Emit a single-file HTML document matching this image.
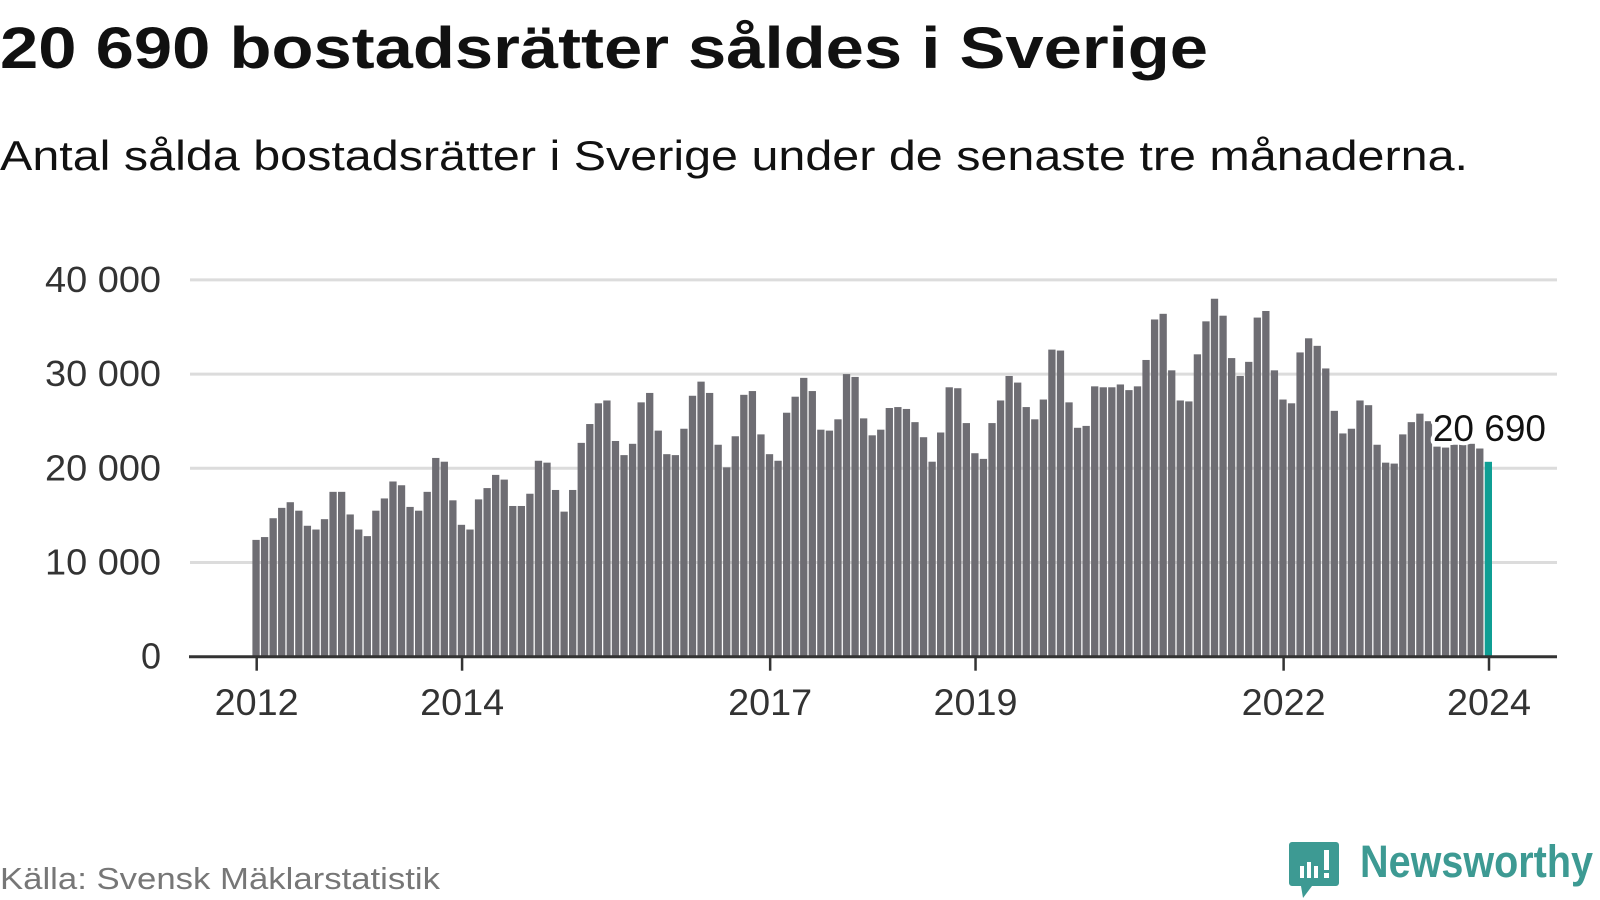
<!DOCTYPE html>
<html><head><meta charset="utf-8"><style>
html,body{margin:0;padding:0;background:#fff;}
svg{display:block;font-family:"Liberation Sans","DejaVu Sans",sans-serif;}
</style></head><body>
<svg id="chart" width="1600" height="900" viewBox="0 0 1600 900">
<text x="0" y="68" font-size="58" font-weight="bold" fill="#111" textLength="1208" lengthAdjust="spacingAndGlyphs">20 690 bostadsrätter såldes i Sverige</text>
<text x="0" y="170" font-size="42" fill="#111" textLength="1468" lengthAdjust="spacingAndGlyphs">Antal sålda bostadsrätter i Sverige under de senaste tre månaderna.</text>
<g id="grid"></g>
<g id="bars"></g>
<g id="axes"></g>
<text x="0" y="889" font-size="31" fill="#777" textLength="440" lengthAdjust="spacingAndGlyphs">Källa: Svensk Mäklarstatistik</text>
<g>
<path d="M1292 842 h44 a3 3 0 0 1 3 3 v38 a3 3 0 0 1 -3 3 h-24 l-9 12 l-2 -12 h-9 a3 3 0 0 1 -3 -3 v-38 a3 3 0 0 1 3 -3z" fill="#3d9a93"/>
<rect x="1300" y="866" width="4" height="12" fill="#fff"/><rect x="1307" y="862" width="4" height="16" fill="#fff"/><rect x="1314" y="866" width="4" height="12" fill="#fff"/><rect x="1324" y="850" width="5" height="20" fill="#fff"/><rect x="1324" y="873" width="5" height="5" fill="#fff"/>
<text x="1360" y="877" font-size="45" font-weight="bold" fill="#3d9a93" textLength="233" lengthAdjust="spacingAndGlyphs">Newsworthy</text>
</g>
</svg>
<script>
const values = [12.4,12.7,14.7,15.8,16.4,15.5,13.9,13.5,14.6,17.5,17.5,15.1,
13.5,12.8,15.5,16.8,18.6,18.2,15.9,15.5,17.5,21.1,20.7,16.6,
14.0,13.5,16.7,17.9,19.3,18.8,16.0,16.0,17.3,20.8,20.6,17.7,
15.4,17.7,22.7,24.7,26.9,27.2,22.9,21.4,22.6,27.0,28.0,24.0,
21.5,21.4,24.2,27.7,29.2,28.0,22.5,20.1,23.4,27.8,28.2,23.6,
21.5,20.8,25.9,27.6,29.6,28.2,24.1,24.0,25.2,30.0,29.7,25.3,
23.5,24.1,26.4,26.5,26.3,24.9,23.3,20.7,23.8,28.6,28.5,24.8,
21.6,21.0,24.8,27.2,29.8,29.1,26.5,25.2,27.3,32.6,32.5,27.0,
24.3,24.5,28.7,28.6,28.6,28.9,28.3,28.7,31.5,35.8,36.4,30.4,
27.2,27.1,32.1,35.6,38.0,36.2,31.7,29.8,31.3,36.0,36.7,30.4,
27.3,26.9,32.3,33.8,33.0,30.6,26.1,23.7,24.2,27.2,26.7,22.5,
20.6,20.5,23.6,24.9,25.8,25.0,22.3,22.2,22.5,22.5,22.6,22.1,
20.69];
const yTicks = [0,10,20,30,40];
const yTickLabels = ["0","10 000","20 000","30 000","40 000"];
const xTickMonths = [0,24,60,84,120,144];
const xTickLabels = ["2012","2014","2017","2019","2022","2024"];
const lastLabel = "20 690";

const NS="http://www.w3.org/2000/svg";
const y0=656.7, pxPer=9.42, x0=256.7, step=(1489-256.7)/144;
const yS=v=>y0-v*pxPer, xS=i=>x0+i*step;
function mk(tag,attrs,parent){const e=document.createElementNS(NS,tag);for(const k in attrs)e.setAttribute(k,attrs[k]);parent.appendChild(e);return e;}
const grid=document.getElementById('grid'),bars=document.getElementById('bars'),axes=document.getElementById('axes');
yTicks.forEach((t,i)=>{
  if(t>0){const l=mk('line',{x1:190,x2:1557,y1:yS(t),y2:yS(t),stroke:'#dcdcdc','stroke-width':3},grid);
  
  }
  const attrs={x:161,y:yS(t)+12,'font-size':36,fill:'#333','text-anchor':'end'};
  if(yTickLabels[i].length>3){attrs.textLength=116;attrs.lengthAdjust='spacingAndGlyphs';}
  const tx=mk('text',attrs,axes);
  tx.textContent=yTickLabels[i];
  
  
});
values.forEach((v,i)=>{
  const last=i===values.length-1;
  const r=mk('rect',{x:xS(i)-4.3,y:yS(v),width:7.3,height:v*pxPer,fill:last?'#0f9e94':'#6e6d73'},bars);
  
  
});
const ax=mk('line',{x1:189,x2:1557,y1:y0,y2:y0,stroke:'#333','stroke-width':3},axes);


xTickMonths.forEach((m,i)=>{
  const tk=mk('line',{x1:xS(m),x2:xS(m),y1:y0,y2:y0+14,stroke:'#333','stroke-width':2.5},axes);
  
  
  const tx=mk('text',{x:xS(m),y:715,'font-size':37,fill:'#333','text-anchor':'middle',textLength:84,lengthAdjust:'spacingAndGlyphs'},axes);
  tx.textContent=xTickLabels[i];
  
  
});
const lv=values[values.length-1];
const lb=mk('text',{x:1546,y:yS(lv)-21,'font-size':37,fill:'#111','text-anchor':'end',stroke:'#fff','stroke-width':8,'paint-order':'stroke','stroke-linejoin':'round'},axes);
lb.textContent=lastLabel;


</script>
</body></html>
